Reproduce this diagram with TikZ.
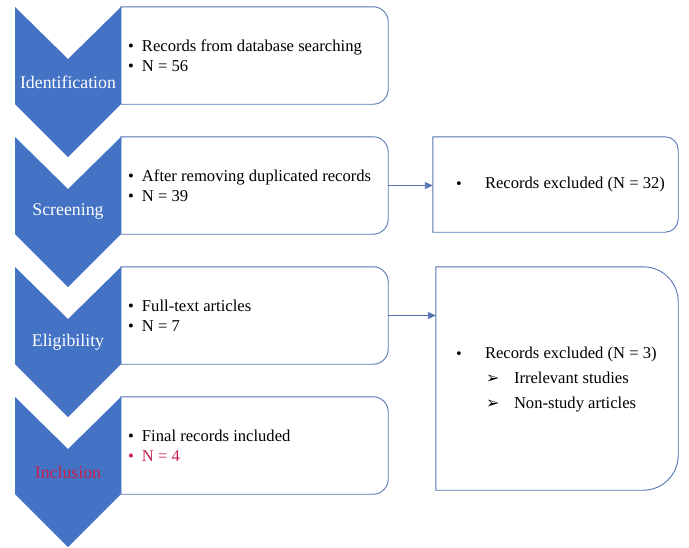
\documentclass[tikz,border=0pt]{standalone}
\usepackage{fontspec}
\setmainfont{Liberation Serif}
\newfontfamily\symfont{DejaVu Sans}
\usetikzlibrary{arrows.meta}

\definecolor{chevblue}{RGB}{68,114,196}
\definecolor{lineblue}{RGB}{84,116,178}
\definecolor{incred}{RGB}{200,32,78}

\newcommand\itm{\makebox[14pt][l]{•}}
\newcommand\bigitm{\makebox[30pt][l]{\symfont\fontsize{13}{13}\selectfont •}}
\newcommand\subitm{\hspace*{31pt}\makebox[28pt][l]{\symfont\fontsize{16}{16}\selectfont ➢}}
% right side rounded only
\newcommand\rightround[2]{%
  \draw[boxline] (#1.south west) -- (#1.north west)
    -- ([xshift=-#2]#1.north east) arc[start angle=90, end angle=0, radius=#2]
    -- ([yshift=#2]#1.south east) arc[start angle=0, end angle=-90, radius=#2]
    -- cycle;}

\tikzset{
  boxline/.style={draw=lineblue, line width=0.9pt},
  plainbox/.style={inner sep=0pt},
  stagelabel/.style={font=\fontsize{17.8}{20}\selectfont, inner sep=0pt},
  rectext/.style={anchor=west, align=left, inner sep=0pt, font=\fontsize{16.6}{20}\selectfont},
  flow/.style={boxline, -{Triangle[length=8pt, width=7pt]}}
}

\begin{document}
\begin{tikzpicture}[x=1pt, y=-1pt]
  \useasboundingbox (0,0) rectangle (689,547);

  \foreach \i/\lab/\col in {0/Identification/white, 1/Screening/white, 2/Eligibility/white, 3/Inclusion/incred} {
    \pgfmathsetmacro\T{7+130*\i}
    \node[plainbox, minimum width=267pt, minimum height=97pt] (rec\i) at (254.5,\T+48.5) {};
    \rightround{rec\i}{15pt}
    \fill[chevblue] (15,\T) -- (68,\T+52) -- (121,\T) -- (121,\T+97)
      -- (68,\T+150) -- (15,\T+97) -- cycle;
    \node[stagelabel, text=\col] (stage\i) at (68,\T+75) {\lab};
  }

  \node[rectext] (rec0txt) at ([xshift=7pt]rec0.west) {\itm Records from database searching\\ \itm N = 56};
  \node[rectext] (rec1txt) at ([xshift=7pt]rec1.west) {\itm After removing duplicated records\\ \itm N = 39};
  \node[rectext] (rec2txt) at ([xshift=7pt]rec2.west) {\itm Full-text articles\\ \itm N = 7};
  \node[rectext] (rec3txt) at ([xshift=7pt]rec3.west) {\itm Final records included\\ \textcolor{incred}{\itm N = 4}};

  \node[plainbox, minimum width=245pt, minimum height=95pt] (excl1) at (555.5,184.5) {};
  \node[plainbox, minimum width=242pt, minimum height=223pt] (excl2) at (557,378.5) {};
  \rightround{excl1}{13pt}
  \rightround{excl2}{35pt}

  \node[rectext] (excl1txt) at ([xshift=22pt]excl1.west) {\bigitm Records excluded (N = 32)};
  \node[rectext, font=\fontsize{16.6}{25}\selectfont] (excl2txt) at ([xshift=19pt,yshift=-1.5pt]excl2.west)
    {\bigitm Records excluded (N = 3)\\ \subitm Irrelevant studies\\ \subitm Non-study articles};

  \draw[flow] (rec1.east) -- (rec1.east -| excl1.west);
  \draw[flow] (rec2.east) -- (rec2.east -| excl2.west);
\end{tikzpicture}
\end{document}
